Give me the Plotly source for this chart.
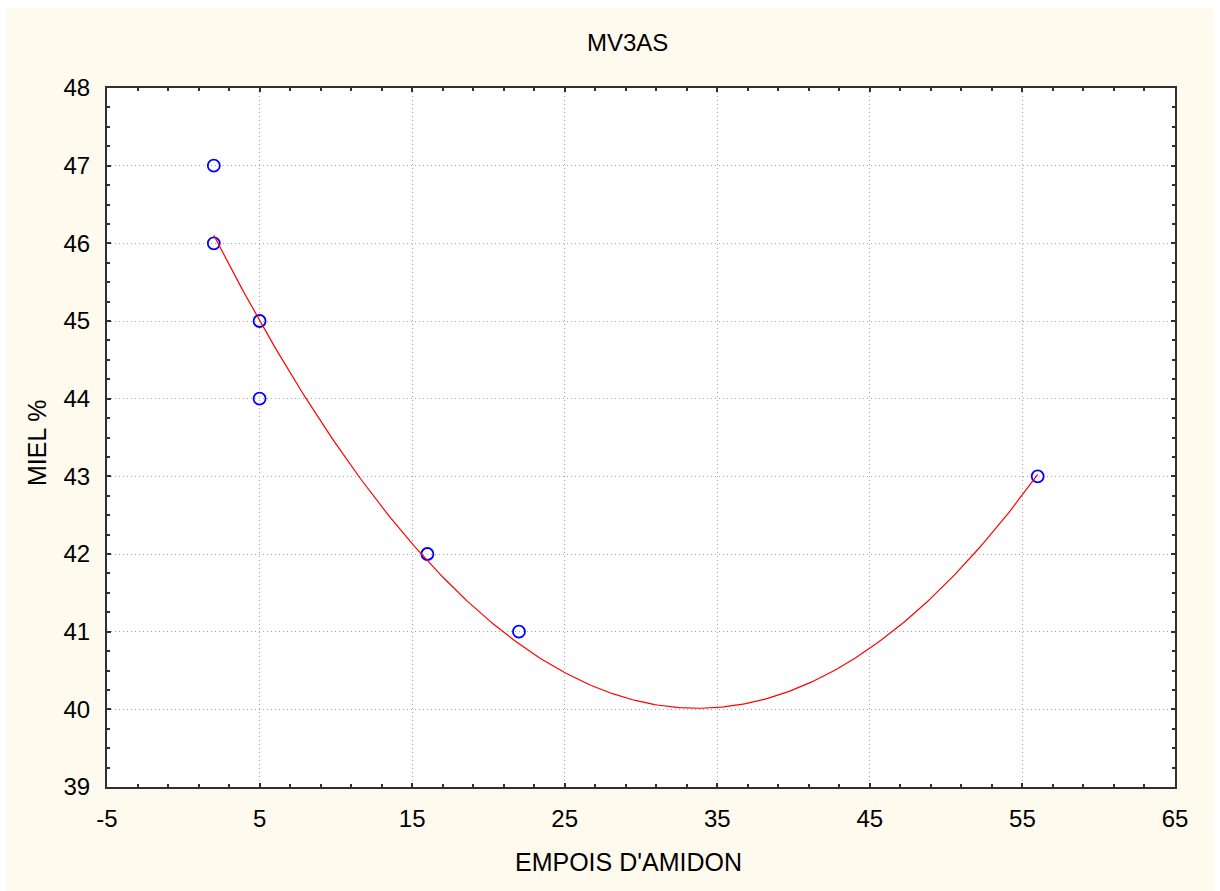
import numpy as np
import plotly.graph_objects as go

# Data
empois = [2, 2, 5, 5, 16, 22, 56]
miel = [47, 46, 45, 44, 42, 41, 43]
x_ticks = [-5, 5, 15, 25, 35, 45, 55, 65]
y_ticks = [39, 40, 41, 42, 43, 44, 45, 46, 47, 48]
title_text = "MV3AS"
x_title = "EMPOIS D'AMIDON"
y_title = "MIEL %"

# Quadratic least-squares fit through the data
coef = np.polyfit(empois, miel, 2)
xf = np.linspace(min(empois), max(empois), 300)
yf = np.polyval(coef, xf)

W, H = 1220, 891
L, R, T, B = 107, 1175, 88, 787
pw, ph = R - L, B - T

def px(x):
    return (x - L) / pw

def py(y):
    return (B - y) / ph

FONT = "Liberation Sans, Arial, sans-serif"
CREAM = "#FFFAEE"

fig = go.Figure()
fig.add_trace(go.Scatter(
    x=empois, y=miel, mode="markers",
    marker=dict(symbol="circle-open", size=12, color="#0000FF",
                line=dict(width=1.8, color="#0000FF")),
    showlegend=False, hoverinfo="x+y"))
fig.add_trace(go.Scatter(
    x=xf, y=yf, mode="lines", line=dict(color="#FF0000", width=1.2),
    showlegend=False, hoverinfo="skip"))

axis_common = dict(
    showline=True, linecolor="#303030", linewidth=2, mirror="ticks",
    ticks="inside", ticklen=4, tickcolor="#303030", tickwidth=1.5,
    showgrid=True, gridcolor="#A8A8A8", gridwidth=1, griddash="1px,3px",
    zeroline=False, tickfont=dict(family=FONT, size=24, color="black"),
)

fig.update_xaxes(range=[-5, 65], tickmode="array", tickvals=x_ticks,
                 ticktext=[str(v) for v in x_ticks],
                 minor=dict(ticks="inside", ticklen=3, dtick=2, tick0=-5,
                            tickcolor="#303030", tickwidth=1.5, showgrid=False),
                 ticklabelstandoff=9, **axis_common)
fig.update_yaxes(range=[39, 48], tickmode="array", tickvals=y_ticks,
                 ticktext=[str(v) for v in y_ticks],
                 minor=dict(ticks="inside", ticklen=3, dtick=0.25, tick0=39,
                            tickcolor="#303030", tickwidth=1.5, showgrid=False),
                 ticklabelstandoff=10, **axis_common)

shapes = [
    dict(type="rect", xref="paper", yref="paper", layer="below",
         x0=px(7), x1=px(1213), y0=py(891), y1=py(8),
         fillcolor=CREAM, line=dict(width=0)),
    dict(type="rect", xref="paper", yref="paper", layer="below",
         x0=0, x1=1, y0=0, y1=1, fillcolor="white", line=dict(width=0)),
]

annotations = [
    dict(text=title_text, xref="paper", yref="paper", x=px(627), y=py(42),
         showarrow=False, xanchor="center", yanchor="middle",
         font=dict(family=FONT, size=24, color="black")),
    dict(text=x_title, xref="paper", yref="paper", x=px(628), y=py(862),
         showarrow=False, xanchor="center", yanchor="middle",
         font=dict(family=FONT, size=25, color="black")),
    dict(text=y_title, xref="paper", yref="paper", x=px(37), y=py(443),
         showarrow=False, xanchor="center", yanchor="middle", textangle=-90,
         font=dict(family=FONT, size=25, color="black")),
]

fig.update_layout(
    width=W, height=H,
    margin=dict(l=L, r=W - R, t=T, b=H - B, pad=0),
    paper_bgcolor="white", plot_bgcolor="white",
    shapes=shapes, annotations=annotations,
    showlegend=False,
)

fig.write_html("out.html")
